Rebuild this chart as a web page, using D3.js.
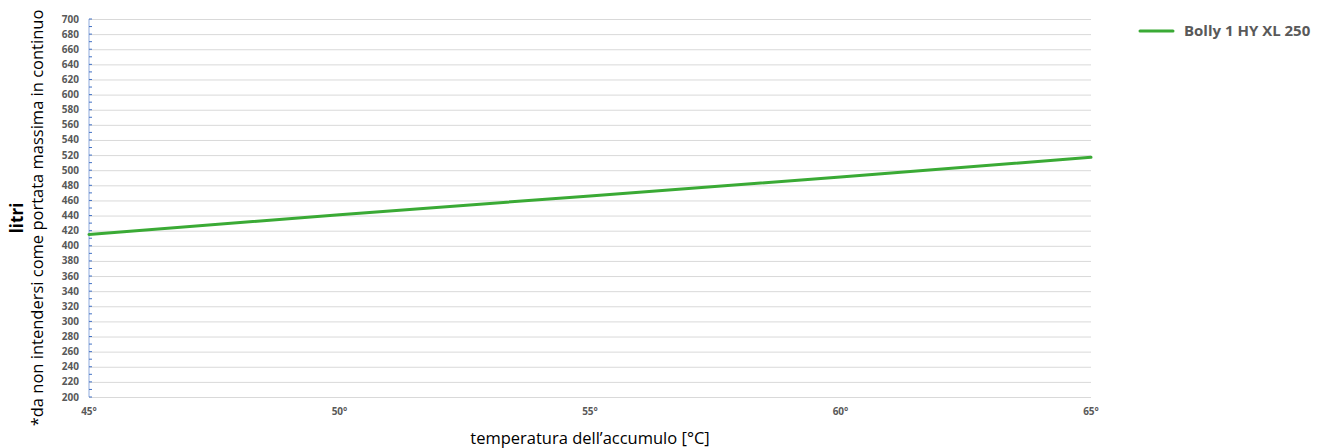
<!DOCTYPE html>
<html>
<head>
<meta charset="utf-8">
<script src="https://cdn.jsdelivr.net/npm/d3@7"></script>
<style>
  body { margin: 0; background: #fff; }
  svg { font-family: "Open Sans", "Liberation Sans", sans-serif; }
  .grid line { stroke: #d9d9d9; stroke-width: 1; }
  .grid path { display: none; }
  .tick-label { fill: #595959; font-weight: bold; font-size: 10px; }
</style>
</head>
<body>
<div id="chart"></div>
<script>
const temperatures = [45, 50, 55, 60, 65];
const litri = [415, 441, 466, 491, 517];
const seriesName = "Bolly 1 HY XL 250";
const yTicks = d3.range(200, 701, 20);
const xTickLabels = ["45°", "50°", "55°", "60°", "65°"];

const width = 1322;
const height = 448;
const margin = ({top: 19, right: 231, bottom: 51, left: 89});

const x = d3.scaleLinear()
    .domain([45, 65])
    .range([margin.left, width - margin.right]);

const y = d3.scaleLinear()
    .domain([200, 700])
    .range([height - margin.bottom, margin.top]);

const svg = d3.select("#chart")
    .append("svg")
    .attr("width", width)
    .attr("height", height);

// horizontal gridlines
svg.append("g")
    .attr("class", "grid")
    .attr("transform", `translate(${margin.left},0)`)
    .call(d3.axisLeft(y)
        .tickValues(yTicks)
        .tickSize(-(width - margin.left - margin.right))
        .tickFormat(""));

// y axis line + major/minor ticks
const yAxis = svg.append("g");
yAxis.append("line")
    .attr("x1", margin.left).attr("x2", margin.left)
    .attr("y1", y(700)).attr("y2", y(200))
    .attr("stroke", "#8faadc").attr("stroke-width", 1);
yAxis.selectAll(".minor")
    .data(d3.range(200, 701, 10))
    .join("line")
    .attr("x1", margin.left).attr("x2", margin.left + 3)
    .attr("y1", d => y(d)).attr("y2", d => y(d))
    .attr("stroke", "#4472c4").attr("stroke-width", 1);

yAxis.selectAll(".tick-label")
    .data(yTicks)
    .join("text")
    .attr("class", "tick-label")
    .attr("x", margin.left - 10)
    .attr("y", d => y(d))
    .attr("dy", "0.35em")
    .attr("text-anchor", "end")
    .text(d => d);

svg.selectAll(".xlab")
    .data(temperatures)
    .join("text")
    .attr("class", "tick-label")
    .attr("x", d => x(d))
    .attr("y", 415)
    .attr("text-anchor", "middle")
    .text((d, i) => xTickLabels[i]);

// series line
const line = d3.line()
    .x((d, i) => x(temperatures[i]))
    .y(d => y(d));

svg.append("path")
    .attr("fill", "none")
    .attr("stroke", "#3aaa35")
    .attr("stroke-width", 3)
    .attr("stroke-linecap", "round")
    .attr("d", line(litri));

// axis titles
svg.append("text")
    .attr("transform", `translate(23,218) rotate(-90)`)
    .attr("text-anchor", "middle")
    .attr("font-weight", "bold")
    .attr("font-size", "17px")
    .attr("fill", "#000")
    .text("litri");

svg.append("text")
    .attr("transform", `translate(43,218) rotate(-90)`)
    .attr("text-anchor", "middle")
    .attr("font-size", "16.5px")
    .attr("fill", "#000")
    .text("*da non intendersi come portata massima in continuo");

svg.append("text")
    .attr("x", 590)
    .attr("y", 444)
    .attr("text-anchor", "middle")
    .attr("font-size", "16.5px")
    .attr("fill", "#000")
    .text("temperatura dell\u2019accumulo [°C]");

// legend
const legend = svg.append("g").attr("transform", "translate(1140,31)");
legend.append("line")
    .attr("x1", 0).attr("x2", 33)
    .attr("stroke", "#3aaa35")
    .attr("stroke-width", 3)
    .attr("stroke-linecap", "round");
legend.append("text")
    .attr("x", 44)
    .attr("dy", "0.35em")
    .attr("font-weight", "bold")
    .attr("font-size", "15px")
    .attr("fill", "#595959")
    .text(seriesName);
</script>
</body>
</html>
